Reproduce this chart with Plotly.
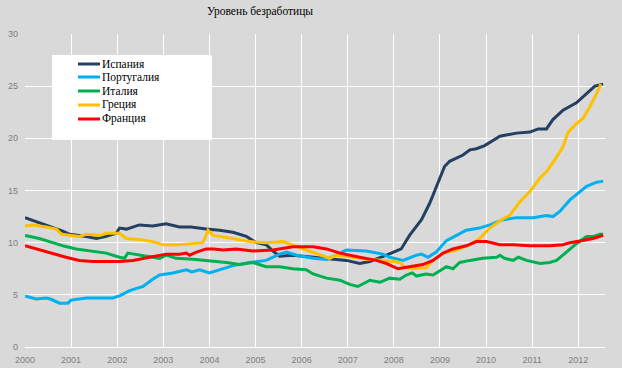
import plotly.graph_objects as go

# ---- data (decimal years, unemployment %) ----
spain_x = [2000.0, 2000.31, 2000.6, 2000.82, 2000.97, 2001.18, 2001.33, 2001.55, 2001.76, 2001.98,
           2002.05, 2002.2, 2002.48, 2002.77, 2003.06, 2003.35, 2003.6, 2003.93, 2004.22, 2004.51,
           2004.8, 2005.02, 2005.23, 2005.38, 2005.52, 2005.81, 2006.25, 2006.68, 2006.97, 2007.26,
           2007.48, 2007.84, 2008.16, 2008.34, 2008.6, 2008.78, 2008.96, 2009.1, 2009.21, 2009.36,
           2009.5, 2009.65, 2009.79, 2009.97, 2010.3, 2010.66, 2010.95, 2011.13, 2011.31, 2011.45,
           2011.67, 2011.96, 2012.18, 2012.36, 2012.54]
spain_y = [12.4, 11.9, 11.5, 11.1, 10.8, 10.7, 10.6, 10.4, 10.6, 10.9,
           11.4, 11.3, 11.7, 11.6, 11.8, 11.5, 11.5, 11.3, 11.2, 11.0,
           10.6, 10.0, 9.8, 9.2, 8.7, 8.8, 8.6, 8.4, 8.3, 8.0,
           8.2, 8.8, 9.4, 10.7, 12.2, 13.8, 15.7, 17.3, 17.8, 18.1,
           18.4, 18.9, 19.0, 19.3, 20.2, 20.5, 20.6, 20.9, 20.9, 21.8,
           22.7, 23.4, 24.3, 25.0, 25.2]

portugal_x = [2000.0, 2000.24, 2000.46, 2000.55, 2000.75, 2000.93, 2001.0, 2001.33, 2001.9, 2002.05,
              2002.27, 2002.56, 2002.77, 2002.92, 2003.21, 2003.5, 2003.62, 2003.79, 2004.0, 2004.22,
              2004.51, 2004.87, 2005.23, 2005.52, 2005.67, 2005.89, 2006.25, 2006.54, 2006.75, 2006.97,
              2007.4, 2007.76, 2007.91, 2008.2, 2008.49, 2008.6, 2008.74, 2008.92, 2009.14, 2009.36,
              2009.57, 2009.86, 2010.08, 2010.37, 2010.66, 2011.02, 2011.31, 2011.45, 2011.6, 2011.82,
              2011.96, 2012.18, 2012.4, 2012.54]
portugal_y = [4.9, 4.6, 4.7, 4.6, 4.2, 4.2, 4.5, 4.7, 4.7, 4.9,
              5.4, 5.8, 6.5, 6.9, 7.1, 7.4, 7.2, 7.4, 7.1, 7.4,
              7.8, 8.1, 8.3, 8.9, 9.1, 8.8, 8.5, 8.4, 8.8, 9.3,
              9.2, 8.9, 8.6, 8.3, 8.8, 8.9, 8.6, 9.1, 10.2, 10.7,
              11.2, 11.4, 11.7, 12.2, 12.4, 12.4, 12.6, 12.5, 13.0, 14.1,
              14.6, 15.4, 15.8, 15.9]

italy_x = [2000.0, 2000.31, 2000.6, 2000.82, 2001.11, 2001.47, 2001.76, 2002.05, 2002.16, 2002.23,
           2002.48, 2002.77, 2002.92, 2003.06, 2003.28, 2003.64, 2003.93, 2004.22, 2004.37, 2004.65,
           2004.94, 2005.23, 2005.52, 2005.81, 2006.1, 2006.25, 2006.54, 2006.83, 2007.04, 2007.22,
           2007.48, 2007.7, 2007.91, 2008.13, 2008.27, 2008.4, 2008.49, 2008.7, 2008.85, 2009.0,
           2009.14, 2009.28, 2009.43, 2009.65, 2009.93, 2010.23, 2010.3, 2010.4, 2010.59, 2010.7,
           2010.88, 2011.17, 2011.38, 2011.53, 2011.74, 2011.96, 2012.18, 2012.33, 2012.47, 2012.54]
italy_y = [10.7, 10.4, 10.0, 9.7, 9.4, 9.2, 9.0, 8.6, 8.5, 9.0,
           8.8, 8.6, 8.5, 8.8, 8.5, 8.4, 8.3, 8.2, 8.1, 7.9,
           8.1, 7.7, 7.7, 7.5, 7.4, 7.0, 6.6, 6.4, 6.0, 5.8,
           6.4, 6.2, 6.6, 6.5, 6.9, 7.1, 6.8, 7.0, 6.9, 7.3,
           7.7, 7.5, 8.1, 8.3, 8.5, 8.6, 8.8, 8.5, 8.3, 8.6,
           8.3, 8.0, 8.1, 8.3, 9.1, 9.9, 10.6, 10.6, 10.8, 10.8]

greece_x = [2000.0, 2000.17, 2000.46, 2000.68, 2000.79, 2000.97, 2001.18, 2001.33, 2001.62, 2001.76,
            2002.05, 2002.2, 2002.48, 2002.77, 2002.99, 2003.35, 2003.64, 2003.86, 2003.97, 2004.08,
            2004.51, 2004.87, 2005.23, 2005.6, 2005.78, 2006.1, 2006.39, 2006.61, 2006.75, 2006.97,
            2007.4, 2007.84, 2008.13, 2008.2, 2008.34, 2008.7, 2008.85, 2009.07, 2009.36, 2009.65,
            2009.86, 2010.08, 2010.37, 2010.51, 2010.73, 2010.95, 2011.17, 2011.31, 2011.53, 2011.67,
            2011.78, 2011.96, 2012.1, 2012.25, 2012.4, 2012.49]
greece_y = [11.6, 11.7, 11.5, 11.3, 10.8, 10.7, 10.6, 10.8, 10.7, 10.9,
            10.9, 10.4, 10.3, 10.1, 9.8, 9.8, 9.9, 10.0, 11.2, 10.7,
            10.4, 10.1, 10.0, 10.1, 9.8, 9.3, 8.8, 8.5, 8.8, 8.7,
            8.4, 8.3, 8.1, 7.8, 7.5, 7.6, 8.3, 9.0, 9.3, 9.8,
            10.4, 11.4, 12.3, 12.6, 13.9, 14.9, 16.2, 16.8, 18.2, 19.2,
            20.6, 21.4, 21.9, 23.0, 24.3, 25.2]

france_x = [2000.0, 2000.31, 2000.6, 2000.89, 2001.18, 2001.47, 2001.76, 2002.05, 2002.34, 2002.56,
            2002.77, 2003.06, 2003.35, 2003.5, 2003.57, 2003.72, 2003.93, 2004.08, 2004.3, 2004.58,
            2004.94, 2005.38, 2005.81, 2006.25, 2006.54, 2006.83, 2007.26, 2007.62, 2007.84, 2007.98,
            2008.09, 2008.34, 2008.63, 2008.85, 2009.07, 2009.28, 2009.57, 2009.79, 2010.01, 2010.3,
            2010.59, 2010.95, 2011.38, 2011.67, 2011.82, 2012.1, 2012.32, 2012.54]
france_y = [9.7, 9.3, 9.0, 8.6, 8.3, 8.2, 8.2, 8.2, 8.3, 8.5,
            8.7, 8.9, 8.9, 9.0, 8.8, 9.1, 9.4, 9.4, 9.3, 9.4,
            9.2, 9.3, 9.6, 9.6, 9.4, 9.0, 8.6, 8.3, 8.0, 7.7,
            7.5, 7.7, 7.9, 8.3, 9.0, 9.4, 9.7, 10.1, 10.1, 9.8,
            9.8, 9.7, 9.7, 9.8, 10.0, 10.2, 10.4, 10.7]

series_names = ["Испания", "Португалия", "Италия", "Греция", "Франция"]
series_colors = ["#243F60", "#00B0F0", "#00B050", "#FFC000", "#FF0000"]
year_ticks = list(range(2000, 2013))
year_labels = [str(y) for y in year_ticks]
value_ticks = [0, 5, 10, 15, 20, 25, 30]
title_text = "Уровень безработицы"

# ---- layout geometry (pixels) ----
W, H = 622, 368
ML, MR, MT, MB = 25, 17, 34, 21
PW, PH = W - ML - MR, H - MT - MB


def px(x):
    return (x - ML) / PW


def py(y):
    return (H - MB - y) / PH


fig = go.Figure()
xs = [spain_x, portugal_x, italy_x, greece_x, france_x]
ys = [spain_y, portugal_y, italy_y, greece_y, france_y]
for name, color, x, y in zip(series_names, series_colors, xs, ys):
    fig.add_trace(go.Scatter(x=x, y=y, name=name, mode="lines",
                             line=dict(color=color, width=3), showlegend=False))

# custom legend box (white panel, short line samples, serif labels)
shapes = [dict(type="rect", xref="paper", yref="paper",
               x0=px(52), x1=px(212), y0=py(140), y1=py(55),
               fillcolor="white", line=dict(width=0), layer="above")]
annotations = []
row_y = [64, 77, 91, 105, 119]
for name, color, ry in zip(series_names, series_colors, row_y):
    shapes.append(dict(type="line", xref="paper", yref="paper",
                       x0=px(78), x1=px(100), y0=py(ry), y1=py(ry),
                       line=dict(color=color, width=3), layer="above"))
    annotations.append(dict(xref="paper", yref="paper", x=px(100), y=py(ry),
                            xanchor="left", yanchor="middle", showarrow=False,
                            text=name,
                            font=dict(family="Liberation Serif", size=11.5, color="black")))

fig.update_layout(
    width=W, height=H,
    paper_bgcolor="#D9D9D9", plot_bgcolor="#D9D9D9",
    margin=dict(l=ML, r=MR, t=MT, b=MB),
    title=dict(text=title_text, x=260 / W, xanchor="center", y=1 - 11 / H, yanchor="middle",
               font=dict(family="Liberation Serif", size=11.5, color="black")),
    showlegend=False,
    shapes=shapes,
    annotations=annotations,
    xaxis=dict(range=[2000, 2012.58], tickvals=year_ticks, ticktext=year_labels,
               showgrid=True, gridcolor="white", gridwidth=1, zeroline=False,
               showline=False, ticks="", automargin=False, ticklabelstandoff=6,
               tickfont=dict(family="Liberation Sans", size=9, color="#7F7F7F")),
    yaxis=dict(range=[0, 30], tickvals=value_ticks,
               showgrid=True, gridcolor="white", gridwidth=1, zeroline=True,
               zerolinecolor="white", zerolinewidth=1,
               showline=False, ticks="", automargin=False, ticklabelstandoff=6,
               tickfont=dict(family="Liberation Sans", size=9, color="#7F7F7F")),
)

fig.write_html("out.html",
               config={"displayModeBar": False},
               post_script="document.body.style.margin='0';document.body.style.padding='0';"
                           "document.body.style.overflow='hidden';")
